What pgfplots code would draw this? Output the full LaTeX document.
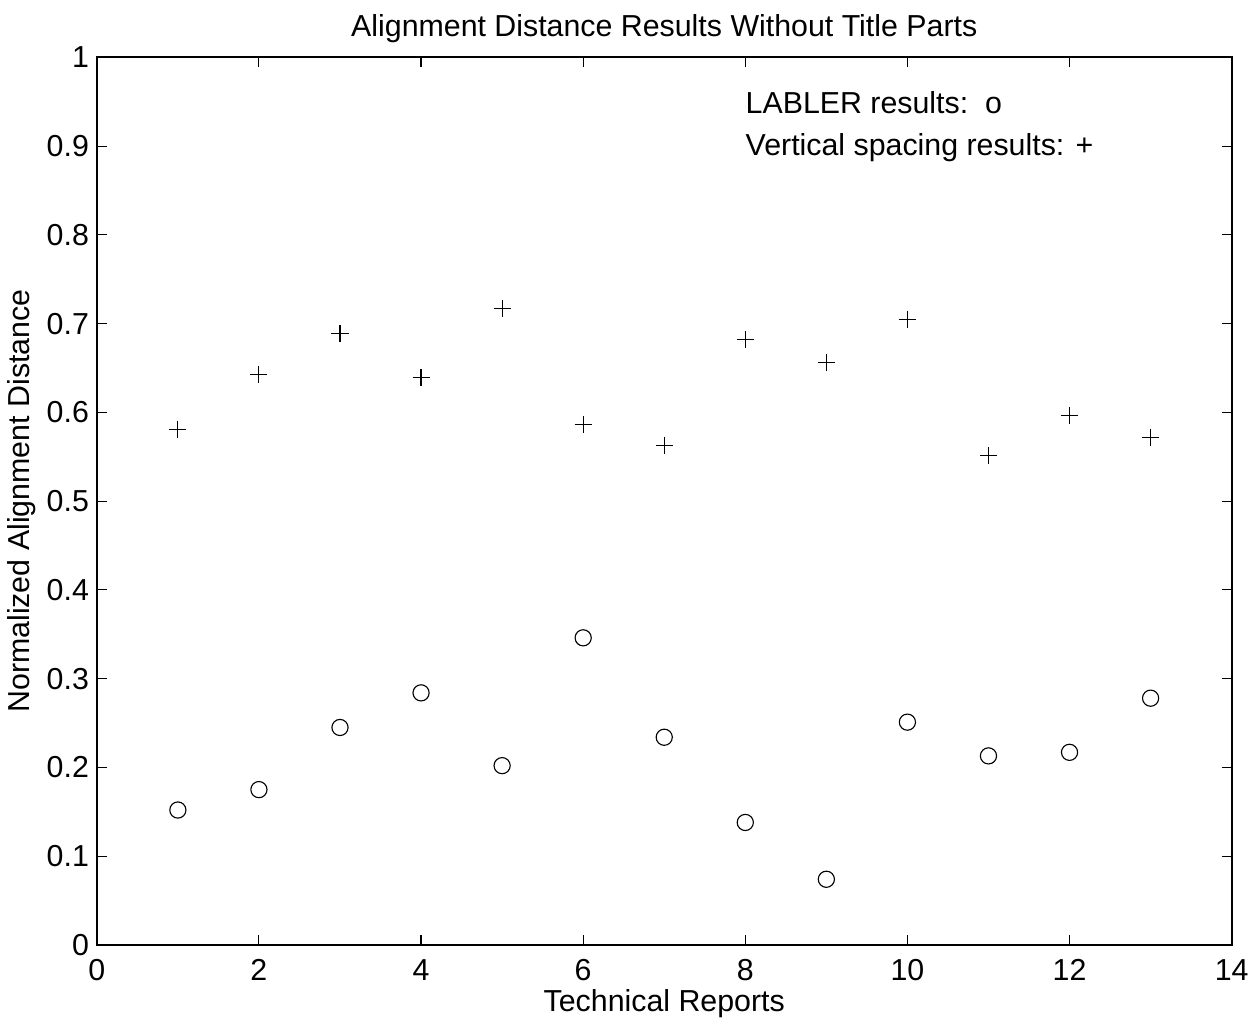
\documentclass[border=0pt]{standalone}
\usepackage{fontspec}
\setmainfont{Liberation Sans}
\usepackage{pgfplots}
\pgfplotsset{compat=1.18}
\begin{document}
\begin{tikzpicture}
\begin{axis}[
  scale only axis,
  width=505pt, height=395pt,
  xmin=0, xmax=14, ymin=0, ymax=1,
  xtick={0,2,...,14},
  ytick={0,0.1,...,1},
  yticklabels={0,0.1,0.2,0.3,0.4,0.5,0.6,0.7,0.8,0.9,1},
  tick align=inside,
  major tick length=4.5pt,
  axis line style={line width=0.8pt},
  tick style={black, line width=0.5pt},
  /pgf/number format/assume math mode=true,
  ticklabel style={font=\fontsize{13.5}{15}\selectfont},
  xticklabel style={yshift=-3pt},
  label style={font=\fontsize{13.5}{15}\selectfont},
  title style={font=\fontsize{13.5}{15}\selectfont, yshift=-3pt},
  title={Alignment Distance Results Without Title Parts},
  xlabel={Technical Reports},
  ylabel={Normalized Alignment Distance},
  xlabel style={yshift=3pt},
  ylabel style={yshift=-2pt},
  clip=false,
]
\addplot[only marks, mark=o, mark size=3.6pt, black, mark options={line width=0.5pt}] coordinates {
(1,0.152) (2,0.175) (3,0.245) (4,0.284) (5,0.202) (6,0.346) (7,0.234)
(8,0.138) (9,0.074) (10,0.251) (11,0.213) (12,0.217) (13,0.278)
};
\addplot[only marks, mark=+, mark size=3.8pt, black, mark options={line width=0.5pt}] coordinates {
(1,0.581) (2,0.643) (3,0.689) (4,0.639) (5,0.717) (6,0.586) (7,0.563)
(8,0.682) (9,0.656) (10,0.705) (11,0.551) (12,0.596) (13,0.572)
};
\node[anchor=west, inner sep=0pt, font=\fontsize{13.5}{15}\selectfont] at (axis cs:8.0,0.949) {LABLER results:\ \ o};
\node[anchor=west, inner sep=0pt, font=\fontsize{13.5}{15}\selectfont] at (axis cs:8.0,0.898) {Vertical spacing results: +};
\path (rel axis cs:0.5,1) ++(0,25.5pt);
\end{axis}
\end{tikzpicture}
\end{document}
